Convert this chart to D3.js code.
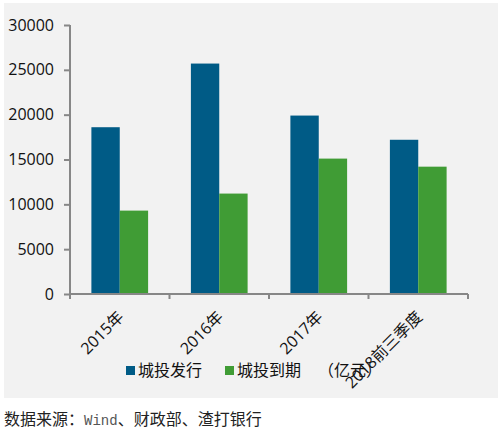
<!DOCTYPE html>
<meta charset="utf-8">
<style>
body { margin: 0; background: #fff; }
.tick text { font-family: "Open Sans", sans-serif; font-size: 16px; fill: #111; }
</style>
<body>
<div id="content"></div>
<script src="https://cdn.jsdelivr.net/npm/d3@7"></script>
<script>
var width = 499,
    height = 435;

// data (亿元)
var categories = ["2015年", "2016年", "2017年", "2018前三季度"];
var seriesNames = ["城投发行", "城投到期"];
var issued = [18600, 25700, 19900, 17200];
var matured = [9300, 11200, 15100, 14200];
var yTicks = [0, 5000, 10000, 15000, 20000, 25000, 30000];
var colors = ["#005b86", "#409c35"];

var plot = {left: 70, right: 468, top: 25, bottom: 294};

var svg = d3.select("#content").append("svg")
    .attr("width", width)
    .attr("height", height);

// grey chart area
svg.append("rect")
    .attr("x", 4).attr("y", 3)
    .attr("width", 494).attr("height", 395)
    .style("fill", "#f2f2f2");

var x = d3.scaleBand()
    .domain(categories)
    .range([plot.left, plot.right])
    .paddingInner(0.43)
    .paddingOuter(0.215);

var x1 = d3.scaleBand()
    .domain(seriesNames)
    .range([0, x.bandwidth()]);

var y = d3.scaleLinear()
    .domain([0, 30000])
    .range([plot.bottom, plot.top]);

var rows = categories.map((c, i) => ({cat: c, vals: [issued[i], matured[i]]}));

var groups = svg.selectAll(".group")
    .data(rows)
    .enter()
    .append("g")
    .attr("class", "group")
    .attr("transform", d => "translate(" + x(d.cat) + ",0)");

groups.selectAll("rect")
    .data(d => d.vals.map((v, j) => ({name: seriesNames[j], v: v, j: j})))
    .enter()
    .append("rect")
    .attr("x", d => x1(d.name))
    .attr("width", x1.bandwidth())
    .attr("y", d => y(d.v))
    .attr("height", d => y(0) - y(d.v))
    .style("fill", d => colors[d.j]);

// y axis
var yAxis = svg.append("g")
    .attr("transform", "translate(" + plot.left + ",0)")
    .call(d3.axisLeft(y).tickValues(yTicks).tickFormat(d3.format("d")).tickSize(6).tickPadding(10));
yAxis.selectAll("line, path").style("stroke", "#878787").style("stroke-width", 2);
yAxis.select(".domain").attr("d", "M0," + plot.top + "V" + (plot.bottom + 5));

// x axis with boundary ticks
var xAxisG = svg.append("g");
xAxisG.append("line")
    .attr("x1", plot.left).attr("x2", plot.right)
    .attr("y1", plot.bottom).attr("y2", plot.bottom)
    .style("stroke", "#878787").style("stroke-width", 2);
var bounds = d3.range(categories.length + 1).map(i => plot.left + i * (plot.right - plot.left) / categories.length);
xAxisG.selectAll(".xt")
    .data(bounds)
    .enter()
    .append("line")
    .attr("x1", d => d).attr("x2", d => d)
    .attr("y1", plot.bottom).attr("y2", plot.bottom + 5)
    .style("stroke", "#878787").style("stroke-width", 2);

xAxisG.selectAll(".xlabel")
    .data(categories)
    .enter()
    .append("text")
    .attr("class", "xlabel")
    .attr("transform", d => "translate(" + (x(d) + x.bandwidth() / 2 + 5) + ",318) rotate(-45)")
    .attr("text-anchor", "end")
    .style("font-family", "'Open Sans', 'Noto Sans CJK SC', sans-serif")
    .style("font-size", "16px")
    .style("fill", "#111")
    .text(d => d);

// legend
var legend = svg.append("g").attr("transform", "translate(126,366)");
var legX = [0, 99];
seriesNames.forEach((n, i) => {
  legend.append("rect")
      .attr("x", legX[i]).attr("y", 0)
      .attr("width", 9).attr("height", 9)
      .style("fill", colors[i]);
  legend.append("text")
      .attr("x", legX[i] + 12).attr("y", 10)
      .style("font-family", "'Noto Sans CJK SC', sans-serif")
      .style("font-size", "16px")
      .style("fill", "#111")
      .text(n);
});
legend.append("text")
    .attr("x", 192).attr("y", 10)
    .style("font-family", "'Noto Sans CJK SC', sans-serif")
    .style("font-size", "16px")
    .style("fill", "#111")
    .text("（亿元）");

// source note
var src = svg.append("text")
    .attr("x", 4).attr("y", 425)
    .style("font-family", "'Noto Sans CJK SC', sans-serif")
    .style("font-size", "16px")
    .style("fill", "#222");
src.append("tspan").text("数据来源：");
src.append("tspan").style("font-family", "'Liberation Mono', monospace").style("font-size", "14px").style("fill", "#555").text("Wind");
src.append("tspan").text("、财政部、渣打银行");
</script>
